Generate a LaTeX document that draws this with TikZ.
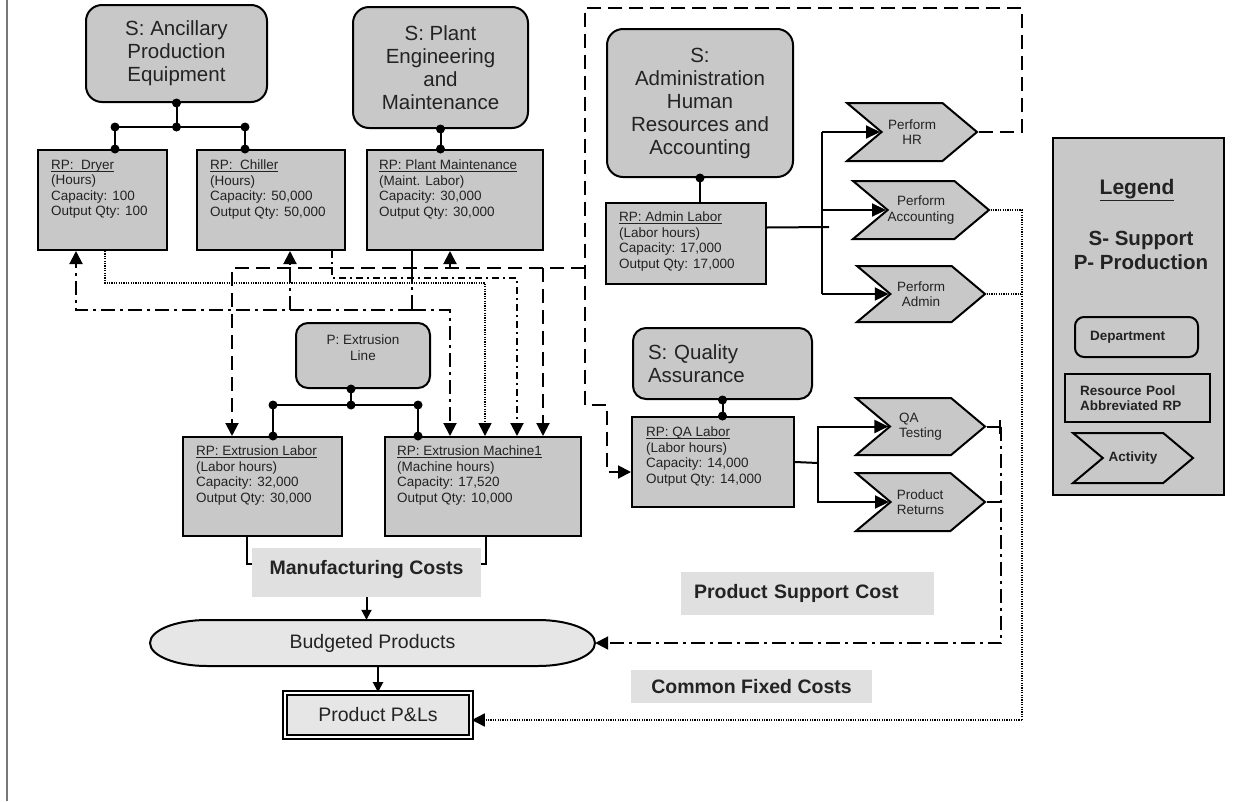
\documentclass[tikz,border=0pt]{standalone}
\usepackage{fontspec}
\setmainfont{Liberation Sans}
\usetikzlibrary{calc,arrows.meta,shapes.symbols,backgrounds}

\definecolor{boxgray}{RGB}{200,200,200}
\definecolor{costgray}{RGB}{224,224,224}
\definecolor{ovalgray}{RGB}{230,230,230}
\definecolor{ink}{RGB}{35,35,35}
\definecolor{framegray}{RGB}{120,120,120}

\newcommand\deptfont{\fontsize{20.5}{23}\selectfont}
\newcommand\poolfont{\fontsize{13.5}{15.5}\selectfont}
\newcommand\costfont{\fontsize{19.5}{22}\selectfont\bfseries}
\newcommand\legfont{\fontsize{20.5}{24}\selectfont\bfseries}
\newcommand\keyfont{\fontsize{13.5}{15.5}\selectfont\bfseries}
\newcommand\rpname[1]{\setbox0=\hbox{#1}\rlap{\rule[-2pt]{\wd0}{0.8pt}}\box0}

\tikzset{
  dept/.style={draw, line width=2pt, fill=boxgray, rounded corners=16pt, align=center, inner sep=0pt, font=\deptfont, text=ink},
  pool/.style={draw, line width=2pt, fill=boxgray, inner sep=0pt},
  pooltext/.style={anchor=north west, align=left, inner sep=0pt, font=\poolfont, text=ink},
  activity/.style={draw, line width=2pt, fill=boxgray, shape=signal, signal to=east, signal from=west, signal pointer angle=80, inner sep=0pt, font=\poolfont, text=ink, align=center},
  cost/.style={fill=costgray, inner sep=0pt, font=\costfont, text=ink},
  link/.style={line width=2pt},
  flow/.style={link, -{Triangle[length=14pt,width=13pt]}},
  smallflow/.style={link, -{Triangle[length=10pt,width=10pt]}},
  hrline/.style={line width=2pt, dash pattern=on 14pt off 7pt},
  hrflow/.style={hrline, -{Triangle[length=13pt,width=13pt]}},
  mntline/.style={line width=2pt, dash pattern=on 14pt off 5pt on 3pt off 5pt},
  mntflow/.style={mntline, -{Triangle[length=13pt,width=13pt]}},
  chflow/.style={line width=2pt, dash pattern=on 7pt off 4pt on 2pt off 4pt, -{Triangle[length=13pt,width=13pt]}},
  dotline/.style={line width=1.6pt, dash pattern=on 1.2pt off 1.2pt},
  dotflow/.style={dotline, -{Triangle[length=13pt,width=13pt]}}
}

\begin{document}
\begin{tikzpicture}[x=1pt,y=-1pt]
\useasboundingbox (0,0) rectangle (1251,801);
\draw[framegray, line width=1.5pt] (7,0) -- (7,801);

\node[dept, minimum width=181pt, minimum height=97pt] (anc) at (176.5,53.5) {S: Ancillary\\Production\\Equipment};
\node[dept, minimum width=175pt, minimum height=121pt] (pe) at (440.5,67.5) {S: Plant\\Engineering\\and\\Maintenance};
\node[dept, minimum width=186pt, minimum height=148pt] (adm) at (700,103) {S:\\Administration\\Human\\Resources and\\Accounting};
\node[dept, minimum width=179pt, minimum height=71pt, text width=149pt, align=left, rounded corners=13pt] (qa) at (722.5,363.5) {S: Quality\\Assurance};
\node[dept, minimum width=134pt, minimum height=65pt, font=\poolfont, rounded corners=12pt] (ext) at (363,355.5) {P: Extrusion\\Line\\~};

\node[pool, minimum width=129pt, minimum height=100pt] (dryer) at (102.5,200) {};
\node[pooltext] (dryertxt) at ([shift={(14,11)}]dryer.north west) {\rpname{RP:\ \ Dryer}\\(Hours)\\Capacity: 100\\Output Qty: 100};
\node[pool, minimum width=148pt, minimum height=100pt] (chiller) at (271,200) {};
\node[pooltext] (chillertxt) at ([shift={(14,11)}]chiller.north west) {\rpname{RP:\ \ Chiller}\\(Hours)\\Capacity: 50,000\\Output Qty: 50,000};
\node[pool, minimum width=176pt, minimum height=100pt] (pm) at (455,200) {};
\node[pooltext] (pmtxt) at ([shift={(13,11)}]pm.north west) {\rpname{RP: Plant Maintenance}\\(Maint. Labor)\\Capacity: 30,000\\Output Qty: 30,000};
\node[pool, minimum width=160pt, minimum height=81pt] (al) at (686,243.5) {};
\node[pooltext] (altxt) at ([shift={(14,10)}]al.north west) {\rpname{RP: Admin Labor}\\(Labor hours)\\Capacity: 17,000\\Output Qty: 17,000};
\node[pool, minimum width=159pt, minimum height=99pt] (el) at (262.5,486.5) {};
\node[pooltext] (eltxt) at ([shift={(14,10)}]el.north west) {\rpname{RP: Extrusion Labor}\\(Labor hours)\\Capacity: 32,000\\Output Qty: 30,000};
\node[pool, minimum width=196pt, minimum height=99pt] (em) at (483,486.5) {};
\node[pooltext] (emtxt) at ([shift={(13,10)}]em.north west) {\rpname{RP: Extrusion Machine1}\\(Machine hours)\\Capacity: 17,520\\Output Qty: 10,000};
\node[pool, minimum width=162pt, minimum height=90pt] (ql) at (713,462) {};
\node[pooltext] (qltxt) at ([shift={(15,11)}]ql.north west) {\rpname{RP: QA Labor}\\(Labor hours)\\Capacity: 14,000\\Output Qty: 14,000};

\node[activity, minimum width=130pt, minimum height=58pt] (hr) at (912,132) {Perform\\HR};
\node[activity, minimum width=128pt, minimum height=58pt] (acc) at (921,210) {Perform\\Accounting};
\node[activity, minimum width=128pt, minimum height=56pt] (admn) at (921,294) {Perform\\Admin};
\node[activity, minimum width=129pt, minimum height=57pt, align=left] (qat) at (920.5,426.5) {QA\\Testing};
\node[activity, minimum width=129pt, minimum height=58pt, align=left] (ret) at (920.5,502) {Product\\Returns};

\node[draw, line width=2pt, fill=boxgray, minimum width=171pt, minimum height=357pt] (legend) at (1138.5,316.5) {};
\node[font=\fontsize{21}{24}\selectfont\bfseries, text=ink] (legtitle) at (1137,190) {\underline{Legend}};
\node[font=\legfont, text=ink, align=center] (legkeys) at (1141,250) {S- Support\\P- Production};
\node[dept, rounded corners=9pt, minimum width=123pt, minimum height=40pt, font=\keyfont, text width=93pt, align=left] (legdept) at (1136.5,337) {Department};
\node[pool, minimum width=145pt, minimum height=48pt, font=\keyfont, text=ink, text width=115pt, align=left] (legpool) at (1137.5,398) {Resource Pool\\Abbreviated RP};
\node[activity, minimum width=120pt, minimum height=50pt, font=\keyfont] (legact) at (1133,458) {Activity};

\node[cost, minimum width=229pt, minimum height=49pt, text depth=11pt] (mfg) at (366.5,572.5) {Manufacturing Costs};
\node[cost, minimum width=253pt, minimum height=43pt, text width=227pt, align=left] (psc) at (807.5,593.5) {Product Support Cost};
\node[cost, minimum width=241pt, minimum height=33pt] (cfc) at (751.5,686.5) {Common Fixed Costs};

\draw[link, fill=ovalgray] (207,620) -- (538,620) arc[start angle=-90, end angle=90, x radius=57, y radius=23] -- (207,666) arc[start angle=90, end angle=270, x radius=57, y radius=23] -- cycle;
\node[minimum width=445pt, minimum height=46pt, inner sep=0pt, font=\fontsize{19.5}{22}\selectfont, text=ink] (budget) at (372.5,643) {Budgeted Products};
\node[draw, double, double distance=2.5pt, line width=1.6pt, fill=ovalgray, minimum width=186pt, minimum height=44pt, font=\fontsize{19.5}{22}\selectfont, text=ink] (pnl) at (378,715) {Product P\&Ls};

\coordinate (ancmid) at (176.5,127);
\coordinate (ancl) at (115,127);
\coordinate (ancr) at (245,127);
\path (ancl |- dryer.north) coordinate (ancd) (ancr |- chiller.north) coordinate (ancc);
\draw[link] (anc.south) -- (ancmid) (ancl) -- (ancr) (ancl) -- (ancd) (ancr) -- (ancc);
\path (pe.south |- pm.north) coordinate (pem);
\draw[link] (pe.south) -- (pem);
\draw[link] (adm.south) -- (adm.south |- al.north);
\path (qa.south |- ql.north) coordinate (qam);
\draw[link] (qa.south) -- (qam);
\coordinate (extmid) at (351,405);
\coordinate (extl) at (273,405);
\coordinate (extr) at (418,405);
\path (extmid |- ext.south) coordinate (extout) (extl |- el.north) coordinate (extel) (extr |- em.north) coordinate (extem);
\draw[link] (extout) -- (extmid) (extl) -- (extr) (extl) -- (extel) (extr) -- (extem);
\foreach \p in {anc.south, ancmid, ancl, ancr, ancd, ancc, pe.south, pem, adm.south, qa.south, qam, extout, extmid, extl, extr, extel, extem}
  \fill (\p) circle[radius=4.5pt];

\coordinate (alsplit) at (822,227);
\draw[link] ([yshift=16pt]al.east) -- ($(alsplit)+(7,0)$);
\draw[link] (alsplit |- hr.west) -- (alsplit |- admn.west);
\draw[flow] (alsplit |- hr.west) -- (hr.west);
\draw[flow] (alsplit |- acc.west) -- (acc.west);
\draw[flow] (alsplit |- admn.west) -- (admn.west);

\coordinate (qlsplit) at (818,463);
\draw[link] (ql.east) -- (qlsplit);
\draw[flow] (qlsplit) |- (qat.west);
\draw[flow] (qlsplit) |- (ret.west);

\coordinate (hrtop) at (1022,8);
\coordinate (hrleft) at (585,8);
\coordinate (hrdrop) at (585,405);
\coordinate (hrjog) at (607,405);
\draw[hrflow] (hr.east) -| (hrtop) -- (hrleft) -- (hrdrop) -- (hrjog) |- ([yshift=-10pt]ql.west);
\coordinate (hrbus) at (585,268);
\coordinate (elin) at (232,268);
\coordinate (emin) at (543,268);
\coordinate (pmin) at (450,268);
\draw[hrflow] (hrbus) -- (elin) -- (elin |- el.north);
\draw[hrflow] (emin) -- (emin |- em.north);
\draw[hrflow] (pmin) -- (pmin |- pm.south);

\coordinate (mntup) at (412,268);
\coordinate (mnt) at (412,310);
\coordinate (dryin) at (76,310);
\coordinate (chin) at (290,310);
\coordinate (emmnt) at (450,310);
\draw[link] (mntup |- pm.south) -- (mntup);
\draw[mntline] (mntup) -- (mnt);
\draw[mntflow] (mnt) -- (dryin) -- (dryin |- dryer.south);
\draw[mntflow] (chin) -- (chin |- chiller.south);
\draw[mntflow] (mnt) -- (emmnt) -- (emmnt |- em.north);

\coordinate (dryout) at (105,283);
\coordinate (emdry) at (485,283);
\draw[dotflow] (dryout |- dryer.south) -- (dryout) -- (emdry) -- (emdry |- em.north);
\coordinate (chout) at (332,278);
\coordinate (emch) at (517,278);
\draw[chflow] (chout |- chiller.south) -- (chout) -- (emch) -- (emch |- em.north);

\coordinate (fixtop) at (1022,210);
\coordinate (fixbot) at (1022,720);
\draw[dotline] (acc.east) -- (fixtop) -- (fixbot);
\draw[dotline] (admn.east) -- (admn.east -| fixtop);
\draw[dotflow] (fixbot) -- (pnl.east |- fixbot);

\coordinate (qbus) at (1001,643);
\draw[link, -{Bar[width=14pt]}] (qat.east) -- (qat.east -| qbus);
\draw[link] (ret.east) -- (ret.east -| qbus);
\draw[mntflow] (qat.east -| qbus) -- (qbus) -- (budget.east);

\draw[link] ([xshift=-16pt]el.south) |- ([yshift=9pt]mfg.west);
\draw[link] ([xshift=3pt]em.south) |- ([yshift=9pt]mfg.east);
\draw[smallflow] (mfg.south) -- (mfg.south |- budget.north);
\draw[smallflow] (budget.south -| pnl.north) -- (pnl.north);
\end{tikzpicture}
\end{document}
